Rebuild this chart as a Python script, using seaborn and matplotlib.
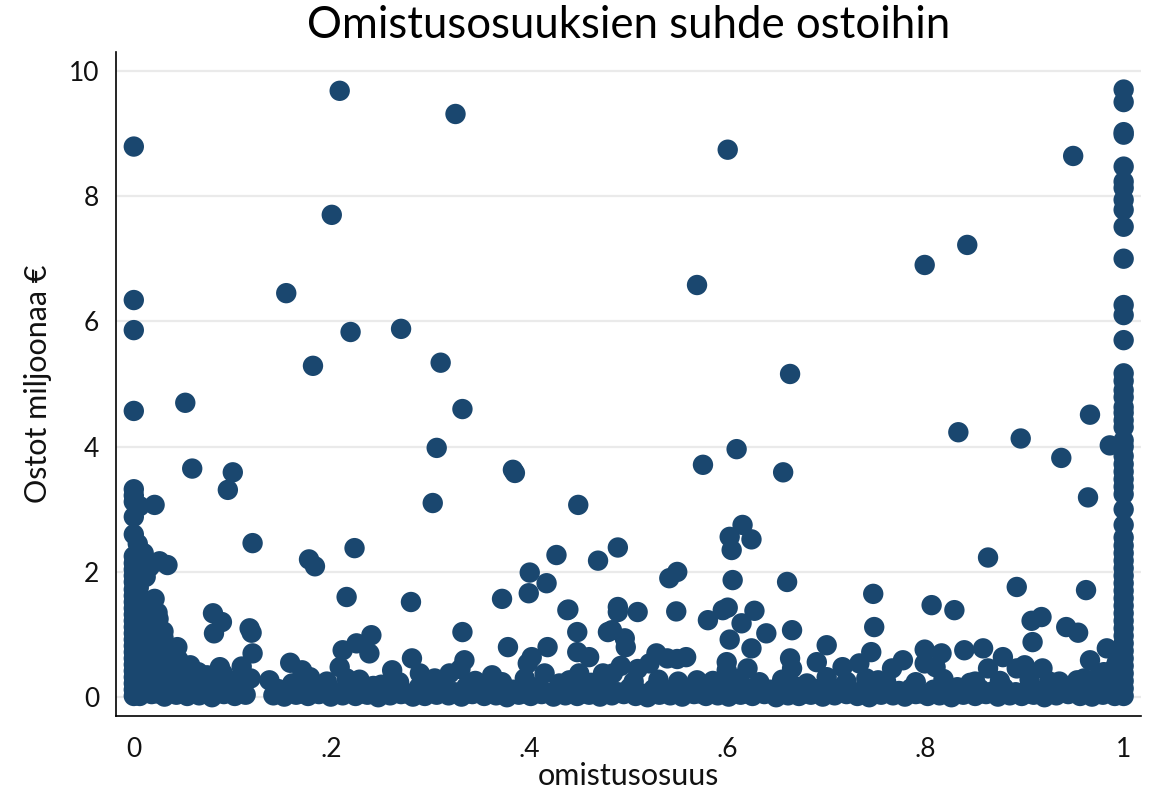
import matplotlib
matplotlib.use("Agg")
import matplotlib.pyplot as plt
import seaborn as sns
import pandas as pd

# ---------------- data ----------------
# column of points at omistusosuus = 0
col0_y = [8.79, 6.34, 5.86, 4.57, 3.32, 3.22, 3.12, 2.88, 2.60, 2.25, 2.14, 2.04,
          1.94, 1.84, 1.72, 1.62, 1.52, 1.42, 1.32, 1.22, 1.12, 1.02, 0.92, 0.82,
          0.72, 0.62, 0.52, 0.42, 0.32, 0.22, 0.12, 0.02]

# points close to zero ownership
near0_x = [0.006, 0.004, 0.007, 0.012, 0.016, 0.026, 0.034, 0.014, 0.021, 0.008,
           0.012, 0.018, 0.010, 0.016, 0.024, 0.030, 0.008, 0.014, 0.020, 0.036,
           0.044, 0.040, 0.050, 0.057, 0.065, 0.074, 0.060, 0.085, 0.095, 0.105,
           0.087, 0.109, 0.080, 0.089, 0.081, 0.117, 0.119, 0.120, 0.021, 0.052,
           0.059, 0.100, 0.095, 0.120, 0.025, 0.030, 0.022, 0.045, 0.070,
           0.005, 0.010, 0.020, 0.028, 0.022, 0.030, 0.024, 0.005, 0.010, 0.015,
           0.035, 0.045, 0.050, 0.070, 0.090, 0.110]
near0_y = [3.05, 2.45, 1.98, 1.92, 2.08, 2.17, 2.11, 1.52, 1.57, 1.30,
           1.10, 0.95, 0.80, 0.62, 0.45, 0.30, 0.55, 0.35, 0.18, 0.70,
           0.80, 0.50, 0.35, 0.51, 0.40, 0.35, 0.22, 0.25, 0.20, 0.28,
           0.48, 0.49, 1.34, 1.20, 1.02, 1.10, 1.03, 0.70, 3.07, 4.70,
           3.65, 3.59, 3.31, 2.46, 1.25, 0.95, 0.65, 0.20, 0.15,
           0.30, 0.15, 0.50, 0.70, 0.85, 1.05, 1.35, 1.75, 2.30, 0.40,
           0.40, 0.60, 0.20, 0.30, 0.38, 0.15]

# scattered low points (0.2 - 1.5)
mid_x = [0.137, 0.158, 0.170, 0.178, 0.208, 0.211, 0.225, 0.215, 0.240, 0.238,
         0.261, 0.281, 0.289, 0.304, 0.319, 0.332, 0.334, 0.330, 0.362, 0.378,
         0.402, 0.398, 0.418, 0.415, 0.438, 0.448, 0.448, 0.460, 0.450, 0.474,
         0.479, 0.483, 0.496, 0.497, 0.492, 0.484, 0.509, 0.521, 0.528, 0.539,
         0.549, 0.558, 0.569, 0.599, 0.599, 0.602, 0.624, 0.620, 0.612, 0.639,
         0.665, 0.663, 0.665, 0.690, 0.700, 0.700, 0.716, 0.733, 0.745, 0.740,
         0.748, 0.766, 0.777, 0.799, 0.816, 0.799, 0.810, 0.839, 0.858, 0.863,
         0.878, 0.892, 0.900, 0.908, 0.918, 0.966, 0.983, 0.953, 0.975, 0.990,
         0.925, 0.760, 0.850, 0.550, 0.430, 0.250, 0.360, 0.985, 0.993, 0.990]
mid_y = [0.27, 0.55, 0.43, 0.32, 0.48, 0.75, 0.86, 0.30, 0.99, 0.70,
         0.43, 0.62, 0.38, 0.30, 0.38, 1.04, 0.59, 0.45, 0.35, 0.80,
         0.64, 0.54, 0.80, 0.38, 1.39, 1.04, 0.72, 0.64, 0.38, 0.38,
         1.04, 1.07, 0.94, 0.80, 0.50, 0.38, 0.45, 0.54, 0.70, 0.62,
         0.61, 0.64, 0.27, 0.56, 0.43, 0.92, 0.78, 0.46, 0.30, 1.02,
         1.07, 0.62, 0.46, 0.56, 0.83, 0.32, 0.48, 0.54, 0.72, 0.30,
         1.12, 0.46, 0.59, 0.76, 0.70, 0.54, 0.48, 0.75, 0.78, 0.46,
         0.64, 0.46, 0.51, 0.88, 0.46, 0.59, 0.78, 0.27, 0.35, 0.45,
         0.25, 0.25, 0.25, 0.25, 0.22, 0.20, 0.22, 0.30, 0.55, 0.15]

# higher scattered points
high_x = [0.154, 0.200, 0.208, 0.181, 0.219, 0.270, 0.325, 0.310, 0.332, 0.306,
          0.302, 0.177, 0.183, 0.223, 0.215, 0.280, 0.383, 0.385, 0.372, 0.400,
          0.417, 0.399, 0.427, 0.449, 0.439, 0.469, 0.489, 0.489, 0.489, 0.509,
          0.541, 0.549, 0.548, 0.569, 0.575, 0.580, 0.595, 0.600, 0.600, 0.602,
          0.604, 0.605, 0.609, 0.614, 0.615, 0.624, 0.627, 0.656, 0.660, 0.663,
          0.747, 0.799, 0.806, 0.829, 0.833, 0.842, 0.863, 0.892, 0.896, 0.907,
          0.917, 0.937, 0.942, 0.949, 0.954, 0.962, 0.964, 0.966, 0.986]
high_y = [6.45, 7.70, 9.68, 5.29, 5.83, 5.88, 9.31, 5.34, 4.60, 3.98,
          3.10, 2.20, 2.09, 2.38, 1.60, 1.52, 3.63, 3.58, 1.57, 1.99,
          1.82, 1.66, 2.27, 3.07, 1.40, 2.18, 2.39, 1.44, 1.36, 1.36,
          1.90, 2.00, 1.37, 6.58, 3.71, 1.23, 1.39, 1.43, 8.74, 2.56,
          2.35, 1.87, 3.96, 1.18, 2.75, 2.52, 1.38, 3.59, 1.84, 5.16,
          1.65, 6.90, 1.47, 1.39, 4.23, 7.22, 2.23, 1.76, 4.13, 1.22,
          1.28, 3.82, 1.12, 8.64, 1.03, 1.71, 3.19, 4.51, 4.02]

# column of points at omistusosuus = 1
col1_y = [9.70, 9.50, 9.02, 8.98, 8.47, 8.23, 8.13, 7.94, 7.78, 7.51, 7.00, 6.26,
          6.10, 5.70, 5.17, 5.05, 4.90, 4.79, 4.63, 4.54, 4.42, 4.31, 4.10, 4.00,
          3.85, 3.72, 3.60, 3.48, 3.36, 3.24, 3.00, 2.75, 2.55, 2.42, 2.30, 2.18,
          2.06, 1.94, 1.82, 1.70, 1.58, 1.46, 1.34, 1.22, 1.10, 0.98, 0.86, 0.74,
          0.62, 0.50, 0.38, 0.26, 0.14, 0.02]

# dense band of small purchases near zero
band1_x = [0.006, 0.018, 0.031, 0.043, 0.054, 0.066, 0.079, 0.091, 0.102, 0.113,
           0.141, 0.152, 0.164, 0.176, 0.187, 0.199, 0.211, 0.224, 0.236, 0.247,
           0.259, 0.270, 0.282, 0.294, 0.306, 0.318, 0.331, 0.342, 0.354, 0.366,
           0.377, 0.389, 0.401, 0.412, 0.424, 0.436, 0.448, 0.460, 0.471, 0.483,
           0.495, 0.507, 0.519, 0.531, 0.542, 0.554, 0.566, 0.578, 0.590, 0.601,
           0.613, 0.625, 0.637, 0.649, 0.661, 0.672, 0.684, 0.696, 0.708, 0.720,
           0.731, 0.743, 0.755, 0.767, 0.779, 0.790, 0.802, 0.814, 0.826, 0.838,
           0.850, 0.861, 0.873, 0.885, 0.897, 0.909, 0.920, 0.932, 0.944, 0.956,
           0.968, 0.979, 0.991]
band1_y = [0.02, 0.05, 0.01, 0.04, 0.02, 0.03, 0.00, 0.05, 0.02, 0.04,
           0.03, 0.01, 0.04, 0.02, 0.05, 0.01, 0.03, 0.02, 0.04, 0.00,
           0.03, 0.05, 0.01, 0.02, 0.04, 0.03, 0.01, 0.05, 0.02, 0.03,
           0.00, 0.04, 0.02, 0.05, 0.01, 0.03, 0.02, 0.04, 0.01, 0.03,
           0.05, 0.02, 0.00, 0.04, 0.03, 0.01, 0.05, 0.02, 0.03, 0.01,
           0.04, 0.02, 0.05, 0.00, 0.03, 0.02, 0.04, 0.01, 0.03, 0.05,
           0.02, 0.00, 0.04, 0.03, 0.01, 0.05, 0.02, 0.03, 0.00, 0.04,
           0.02, 0.05, 0.01, 0.03, 0.02, 0.04, 0.00, 0.03, 0.05, 0.02,
           0.01, 0.04, 0.02]
band2_x = [0.012, 0.037, 0.060, 0.085, 0.108, 0.146, 0.170, 0.193, 0.217, 0.242,
           0.265, 0.288, 0.312, 0.336, 0.360, 0.383, 0.407, 0.430, 0.454, 0.477,
           0.501, 0.525, 0.548, 0.572, 0.596, 0.619, 0.643, 0.667, 0.690, 0.714,
           0.737, 0.761, 0.785, 0.808, 0.832, 0.855, 0.879, 0.903, 0.926, 0.950,
           0.973, 0.996]
band2_y = [0.15, 0.18, 0.12, 0.16, 0.14, 0.13, 0.17, 0.12, 0.15, 0.18,
           0.13, 0.16, 0.12, 0.17, 0.14, 0.12, 0.16, 0.13, 0.18, 0.12,
           0.15, 0.13, 0.17, 0.12, 0.16, 0.14, 0.12, 0.18, 0.13, 0.15,
           0.12, 0.17, 0.14, 0.12, 0.16, 0.13, 0.15, 0.12, 0.17, 0.14,
           0.16, 0.12]
band3_x = [0.012, 0.024, 0.037, 0.048, 0.060, 0.072, 0.085, 0.097, 0.107, 0.146,
           0.158, 0.170, 0.181, 0.193, 0.205, 0.217, 0.230, 0.241, 0.253, 0.264,
           0.276, 0.288, 0.300, 0.312, 0.324, 0.336, 0.348, 0.360, 0.371, 0.383,
           0.395, 0.406, 0.418, 0.430, 0.442, 0.454, 0.465, 0.477, 0.489, 0.501,
           0.513, 0.525, 0.536, 0.548, 0.560, 0.572, 0.584, 0.596, 0.607, 0.619,
           0.631, 0.643, 0.655, 0.666, 0.678, 0.690, 0.702, 0.714, 0.725, 0.737,
           0.749, 0.761, 0.773, 0.784, 0.796, 0.808, 0.820, 0.832, 0.844, 0.855,
           0.867, 0.879, 0.891, 0.903, 0.914, 0.926, 0.938, 0.950, 0.962, 0.973,
           0.985]
band3_y = [0.08, 0.06, 0.09, 0.07, 0.10, 0.06, 0.08, 0.09, 0.07, 0.08,
           0.10, 0.06, 0.09, 0.07, 0.08, 0.10, 0.06, 0.09, 0.07, 0.08,
           0.06, 0.10, 0.07, 0.09, 0.08, 0.06, 0.10, 0.07, 0.09, 0.08,
           0.06, 0.09, 0.07, 0.10, 0.08, 0.06, 0.09, 0.07, 0.08, 0.10,
           0.06, 0.09, 0.07, 0.08, 0.10, 0.06, 0.09, 0.07, 0.08, 0.06,
           0.10, 0.07, 0.09, 0.08, 0.06, 0.10, 0.07, 0.09, 0.08, 0.06,
           0.09, 0.07, 0.10, 0.08, 0.06, 0.09, 0.07, 0.08, 0.10, 0.06,
           0.09, 0.07, 0.08, 0.06, 0.10, 0.07, 0.09, 0.08, 0.06, 0.09,
           0.07]
band4_x = [0.030, 0.055, 0.078, 0.100, 0.118, 0.160, 0.195, 0.228, 0.268, 0.300,
           0.345, 0.372, 0.395, 0.440, 0.462, 0.505, 0.530, 0.585, 0.632, 0.655,
           0.680, 0.720, 0.752, 0.790, 0.818, 0.845, 0.875, 0.905, 0.935, 0.960,
           0.980]
band4_y = [0.30, 0.28, 0.32, 0.26, 0.30, 0.22, 0.25, 0.28, 0.24, 0.22,
           0.26, 0.24, 0.30, 0.27, 0.23, 0.25, 0.28, 0.26, 0.24, 0.28,
           0.22, 0.25, 0.27, 0.24, 0.29, 0.23, 0.26, 0.28, 0.25, 0.30,
           0.40]

x_ticks = [0, 0.2, 0.4, 0.6, 0.8, 1.0]
x_ticklabels = ["0", ".2", ".4", ".6", ".8", "1"]
y_ticks = [0, 2, 4, 6, 8, 10]

title = "Omistusosuuksien suhde ostoihin"
xlabel = "omistusosuus"
ylabel = "Ostot miljoonaa €"

# ---------------- assemble ----------------
xs = ([0.0] * len(col0_y) + near0_x + mid_x + high_x + [1.0] * len(col1_y)
      + band1_x + band2_x + band3_x + band4_x)
ys = col0_y + near0_y + mid_y + high_y + col1_y + band1_y + band2_y + band3_y + band4_y
df = pd.DataFrame({"omistusosuus": xs, "ostot": ys})

# ---------------- plot ----------------
sns.set_style("white")
plt.rcParams["font.family"] = ["Lato", "DejaVu Sans"]

fig = plt.figure(figsize=(11.53, 7.97), dpi=100)
ax = fig.add_axes([0.1006, 0.1016, 0.8894, 0.8332])

color = "#1a476f"
sns.scatterplot(data=df, x="omistusosuus", y="ostot", ax=ax, color=color,
                s=215, linewidth=0, edgecolor="none", alpha=1, zorder=3)

ax.set_xlim(-0.018, 1.018)
ax.set_ylim(-0.30, 10.30)
ax.set_xticks(x_ticks)
ax.set_xticklabels(x_ticklabels)
ax.set_yticks(y_ticks)
ax.yaxis.grid(True, color="#eaeaea", linewidth=1.6)
ax.xaxis.grid(False)
ax.set_axisbelow(True)

for side in ["top", "right"]:
    ax.spines[side].set_visible(False)
for side in ["left", "bottom"]:
    ax.spines[side].set_color("black")
    ax.spines[side].set_linewidth(1.2)

ax.tick_params(axis="both", which="major", direction="out", length=8,
               width=1.1, color="black", labelsize=19, labelcolor="#111111")
ax.tick_params(axis="x", pad=7)
ax.tick_params(axis="y", pad=4)

ax.set_xlabel(xlabel, fontsize=22, color="#111111", labelpad=0)
ax.set_ylabel(ylabel, fontsize=22, color="#111111", labelpad=12)
fig.text(0.545, 0.968, title, ha="center", va="center", fontsize=31.5,
         color="black")

fig.savefig("out.png", dpi=100)
